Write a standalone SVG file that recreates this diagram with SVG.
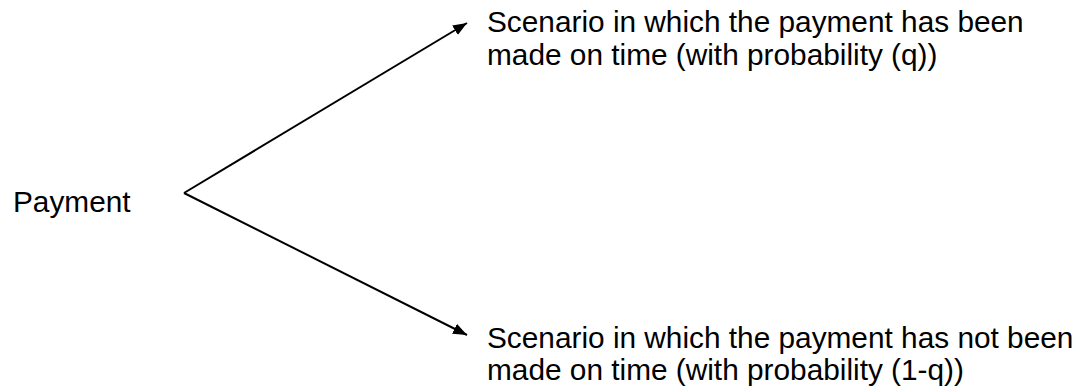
<svg xmlns="http://www.w3.org/2000/svg" width="1082" height="388" viewBox="0 0 1082 388">
<style>
text{font-family:"Liberation Sans",Arial,sans-serif;font-size:29.8px;fill:#000}
.c{stroke:#000;stroke-width:2;fill:none}
</style>
<defs>
<marker id="ah" viewBox="0 0 14 11" refX="14" refY="5.5" markerWidth="14" markerHeight="11" markerUnits="userSpaceOnUse" orient="auto-start-reverse"><path d="M0,0L14,5.5L0,11z" fill="#000"/></marker>
</defs>
<rect width="1082" height="388" fill="#fff"/>
<g id="connectors">
<path class="c" d="M184,193L467,23" marker-end="url(#ah)"/>
<path class="c" d="M184,193L467,335" marker-end="url(#ah)"/>
</g>
<g id="payment"><text x="13" y="212">Payment</text></g>
<g id="scenario-on-time"><text x="487" y="32">Scenario in which the payment has been</text><text x="487" y="65">made on time (with probability (q))</text></g>
<g id="scenario-late"><text x="487" y="348">Scenario in which the payment has not been</text><text x="487" y="380">made on time (with probability (1-q))</text></g>
</svg>
